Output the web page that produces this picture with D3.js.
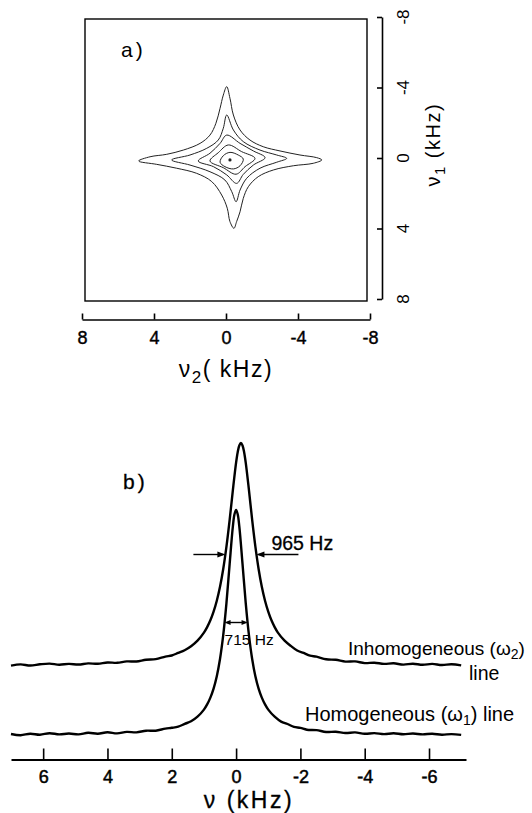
<!DOCTYPE html>
<html>
<head>
<meta charset="utf-8">
<script src="https://cdn.jsdelivr.net/npm/d3@7"></script>
<style>
  html, body { margin: 0; padding: 0; background: #fff; }
  svg { display: block; font-family: "Liberation Sans", Arial, sans-serif; }
</style>
</head>
<body>
<svg id="fig" width="532" height="813"></svg>
<script>
// ---------- panel a: 2D contour map (nu2, nu1 in kHz) ----------
const nu2Ticks = [8, 4, 0, -4, -8];
const nu1Ticks = [-8, -4, 0, 4, 8];

// contour lines, outermost first, as [nu2, nu1] pairs
const contourOuter = [
  [-0.04,-4.05],[-0.22,-3.39],[-0.41,-2.44],[-0.78,-1.59],[-1.33,-1.02],[-2.07,-0.64],
  [-3.0,-0.40],[-4.11,-0.17],[-5.04,-0.02],[-5.32,0.11],[-4.85,0.30],[-3.74,0.44],
  [-2.63,0.68],[-1.79,1.06],[-1.24,1.63],[-0.96,2.29],[-0.78,3.05],[-0.59,3.61],
  [-0.44,3.99],[-0.22,3.61],[-0.07,2.85],[0.24,2.10],[0.79,1.34],[1.63,0.87],
  [2.74,0.58],[3.85,0.36],[4.85,0.17],[4.22,-0.07],[3.29,-0.21],[2.37,-0.45],
  [1.44,-0.83],[0.89,-1.30],[0.56,-1.97],[0.33,-2.82],[0.15,-3.57]
];
const contourSecond = [
  [-0.04,-2.44],[-0.41,-1.59],[-0.96,-0.93],[-1.89,-0.45],[-2.82,-0.17],[-3.37,0.02],
  [-2.82,0.24],[-1.89,0.58],[-1.15,1.15],[-0.78,1.82],[-0.56,2.48],[-0.32,1.91],
  [0.06,1.25],[0.89,0.78],[2.0,0.40],[3.02,0.11],[2.0,-0.17],[1.07,-0.55],
  [0.43,-1.02],[0.15,-1.69]
];
const contourThird = [
  [-0.04,-1.30],[-0.78,-0.83],[-1.52,-0.40],[-2.17,-0.02],[-1.52,0.40],[-0.96,0.93],
  [-0.59,1.44],[-0.04,0.96],[0.70,0.49],[1.54,0.17],[0.89,-0.27],[0.33,-0.83]
];
const contourFourth = [
  [-0.13,-0.74],[-0.87,-0.36],[-1.61,0.02],[-1.06,0.49],[-0.56,0.92],[0.15,0.55],
  [0.89,0.17],[0.43,-0.30]
];
const contourFifth = [
  [-0.22,-0.32],[-0.68,-0.17],[-0.96,0.06],[-0.78,0.44],[-0.41,0.62],[0.06,0.49],
  [0.33,0.24],[0.15,-0.13]
];
const contourPeak = [-0.22, 0.11];

// ---------- panel b: 1D line shapes (nu in kHz, intensity in arbitrary units) ----------
const nuTicks = [6, 4, 2, 0, -2, -4, -6];

const inhNu = [7.0,6.7,6.4,6.1,5.8,5.5,5.2,4.9,4.6,4.3,4.0,3.7,3.4,3.1,2.8,2.5,2.2,
  2.0,1.8,1.6,1.4,1.2,1.0,0.9,0.8,0.7,0.6,0.5,0.4,0.3,0.2,0.1,0.0,
  -0.05,-0.1,-0.15,-0.2,-0.25,-0.3,-0.4,-0.5,-0.6,-0.7,-0.8,-0.9,-1.0,-1.1,-1.2,-1.3,
  -1.5,-1.7,-1.9,-2.1,-2.3,-2.5,-2.8,-3.1,-3.4,-3.7,-4.0,-4.3,-4.6,-4.9,-5.2,-5.5,
  -5.8,-6.1,-6.4,-6.7,-7.0];
const inhInt = [93.4,94.6,93.5,94.7,95.4,94.3,95.1,94.5,95.6,95.2,96.5,96.2,97.6,97.5,99.3,99.9,102.4,
  103.5,106.1,108.8,112.7,118.3,126.4,131.9,138.7,147.4,158.3,172.2,190.0,212.3,239.1,268.9,296.4,
  306.8,313.6,316.0,313.6,306.8,296.4,268.9,239.1,212.3,190.0,172.2,158.3,147.4,138.7,131.9,126.4,
  118.6,113.1,108.5,106.1,103.3,102.3,99.7,99.2,97.4,97.6,95.9,96.3,95.1,95.7,94.4,95.3,
  94.2,95.1,94.0,94.7,93.6];

const homNu = [7.0,6.7,6.4,6.1,5.8,5.5,5.2,4.9,4.6,4.3,4.0,3.7,3.4,3.1,2.8,2.5,2.2,
  2.0,1.8,1.6,1.4,1.2,1.0,0.9,0.8,0.7,0.6,0.5,0.4,0.3,0.2,0.1,0.05,0,
  -0.05,-0.1,-0.2,-0.3,-0.4,-0.5,-0.6,-0.7,-0.8,-0.9,-1.0,-1.2,-1.4,-1.6,-1.8,-2.0,
  -2.2,-2.5,-2.8,-3.1,-3.4,-3.7,-4.0,-4.3,-4.6,-4.9,-5.2,-5.5,-5.8,-6.1,-6.4,-6.7,-7.0];
const homInt = [25.0,23.8,25.3,24.3,25.8,24.6,25.5,24.6,26.2,25.3,26.7,25.6,27.1,26.6,28.3,28.3,30.4,
  31.2,32.3,35.1,37.7,42.3,49.4,54.6,61.4,70.4,82.8,100.0,123.8,155.9,195.2,232.6,244.7,249.0,
  244.7,232.6,195.2,155.9,123.8,100.0,82.8,70.4,61.4,54.6,49.4,42.3,37.4,35.0,32.1,31.1,
  29.3,28.9,27.0,27.3,26.0,26.6,25.2,25.9,24.9,25.7,24.7,25.5,24.6,25.3,24.3,24.9,24.1];

// line widths (kHz), peak centres (kHz) and baselines (intensity units)
const inhFwhm = 0.965, inhCentre = -0.15, inhBase = 93, inhPeak = 316;
const homFwhm = 0.715, homCentre = 0.0,  homBase = 24, homPeak = 249;

// ---------- drawing ----------
const svg = d3.select("#fig");
const FONT = "Liberation Sans, Arial, sans-serif";

// thin outline that gives labels the weight of pen-plotted lettering
function pen(sel, w) {
  sel.attr("stroke", "#000").attr("stroke-width", w).attr("paint-order", "stroke");
}

// panel a
const xA = d3.scaleLinear().domain([8, -8]).range([82, 370]);
const yA = d3.scaleLinear().domain([-8, 8]).range([17, 299]);

svg.append("rect")
  .attr("x", xA(8) + 3).attr("y", yA(-8) + 2)
  .attr("width", xA(-8) - xA(8) - 6).attr("height", yA(8) - yA(-8))
  .attr("fill", "none").attr("stroke", "#000").attr("stroke-width", 1.4);

svg.append("text").attr("x", 121).attr("y", 57)
  .attr("font-size", 21).attr("letter-spacing", 3).text("a)");

const contourLine = d3.line()
  .x(d => xA(d[0])).y(d => yA(d[1]))
  .curve(d3.curveCatmullRomClosed.alpha(0.5));

svg.append("g").selectAll("path")
  .data([contourOuter, contourSecond, contourThird, contourFourth, contourFifth])
  .join("path")
  .attr("d", contourLine)
  .attr("fill", "none").attr("stroke", "#222").attr("stroke-width", 1);

svg.append("circle")
  .attr("cx", xA(contourPeak[0])).attr("cy", yA(contourPeak[1]))
  .attr("r", 1.6).attr("fill", "#222");

// nu2 axis under the map
const axA = svg.append("g").attr("transform", "translate(0,319.5)")
  .call(d3.axisBottom(xA).tickValues(nu2Ticks).tickSizeInner(-6).tickSizeOuter(0)
    .tickPadding(12).tickFormat(d => String(d)));
axA.select(".domain").attr("stroke-width", 1.6);
axA.selectAll(".tick line").attr("stroke-width", 1.6);
axA.selectAll("text").attr("font-size", 18).attr("font-family", FONT).call(pen, 0.4);

const lab2 = svg.append("text").attr("x", xA(0)).attr("y", 377)
  .attr("text-anchor", "middle").attr("font-size", 23).attr("letter-spacing", 1.5);
lab2.append("tspan").text("ν");
lab2.append("tspan").attr("dy", 6).attr("font-size", 17).text("2");
lab2.append("tspan").attr("dy", -6).text("( kHz)");

// nu1 axis on the right
const axisX = 382;
const axR = svg.append("g").attr("transform", `translate(${axisX},0)`)
  .call(d3.axisRight(yA).tickValues(nu1Ticks).tickSizeInner(-5).tickSizeOuter(0)
    .tickFormat(() => ""));
axR.select(".domain").attr("stroke-width", 1.6);
axR.selectAll(".tick line").attr("stroke-width", 1.6);

svg.append("g").selectAll("text").data(nu1Ticks).join("text")
  .attr("transform", d => `translate(${axisX + 27},${yA(d)}) rotate(-90)`)
  .attr("text-anchor", "middle").attr("font-size", 17)
  .text(d => String(d));

const lab1 = svg.append("text")
  .attr("transform", `translate(${axisX + 58},${yA(-0.75)}) rotate(-90)`)
  .attr("text-anchor", "middle").attr("font-size", 20).attr("letter-spacing", 1.5);
lab1.append("tspan").text("ν");
lab1.append("tspan").attr("dy", 5).attr("font-size", 15).text("1");
lab1.append("tspan").attr("dy", -5).text(" (kHz)");

// panel b
const xB = d3.scaleLinear().domain([7, -7.15]).range([11, 466]);
const yB = d3.scaleLinear().domain([0, 320]).range([759, 439]);

svg.append("text").attr("x", 123).attr("y", 489)
  .attr("font-size", 21).attr("letter-spacing", 3).call(pen, 0.3).text("b)");

const axB = svg.append("g").attr("transform", "translate(0,759.5)")
  .call(d3.axisBottom(xB).tickValues(nuTicks).tickSizeInner(-11).tickSizeOuter(0)
    .tickPadding(11).tickFormat(d => String(d)));
axB.select(".domain").attr("stroke-width", 1.8);
axB.selectAll(".tick line").attr("stroke-width", 1.6);
axB.selectAll("text").attr("font-size", 18).attr("font-family", FONT).call(pen, 0.5);

svg.append("text").attr("x", xB(-0.4)).attr("y", 808)
  .attr("text-anchor", "middle").attr("font-size", 23).attr("letter-spacing", 2.5)
  .call(pen, 0.3).text("ν (kHz)");

const spectrum = d3.line()
  .x(d => xB(d[0])).y(d => yB(d[1]))
  .curve(d3.curveCatmullRom.alpha(0.5));

svg.append("path").datum(d3.zip(inhNu, inhInt))
  .attr("d", spectrum).attr("fill", "none")
  .attr("stroke", "#000").attr("stroke-width", 2.4).attr("stroke-linejoin", "round");
svg.append("path").datum(d3.zip(homNu, homInt))
  .attr("d", spectrum).attr("fill", "none")
  .attr("stroke", "#000").attr("stroke-width", 2.4).attr("stroke-linejoin", "round");

// arrow helper: filled head with its tip at (x, y), pointing along dir (+1 right, -1 left)
function head(x, y, dir, len, half) {
  svg.append("path")
    .attr("d", `M${x},${y}L${x - dir * len},${y - half}L${x - dir * len},${y + half}Z`)
    .attr("fill", "#000");
}

// inhomogeneous width marker
const yInh = yB(inhBase + (inhPeak - inhBase) / 2);
const inhL = xB(inhCentre + inhFwhm / 2), inhR = xB(inhCentre - inhFwhm / 2);
svg.append("line").attr("x1", inhL - 32).attr("x2", inhL - 2).attr("y1", yInh).attr("y2", yInh)
  .attr("stroke", "#000").attr("stroke-width", 1.4);
head(inhL, yInh, 1, 8, 3);
svg.append("line").attr("x1", inhR + 2).attr("x2", inhR + 42).attr("y1", yInh).attr("y2", yInh)
  .attr("stroke", "#000").attr("stroke-width", 1.4);
head(inhR, yInh, -1, 8, 3);
svg.append("text").attr("x", inhR + 15).attr("y", yInh - 5)
  .attr("font-size", 19.5).call(pen, 0.3).text(`${Math.round(inhFwhm * 1000)} Hz`);

// homogeneous width marker
const yHom = yB(homBase + (homPeak - homBase) / 2);
const homL = xB(homCentre + homFwhm / 2), homR = xB(homCentre - homFwhm / 2);
svg.append("line").attr("x1", homL + 2).attr("x2", homR - 2).attr("y1", yHom).attr("y2", yHom)
  .attr("stroke", "#000").attr("stroke-width", 1.4);
head(homL, yHom, -1, 6, 2.5);
head(homR, yHom, 1, 6, 2.5);
svg.append("text").attr("x", homL).attr("y", yHom + 22)
  .attr("font-size", 15.5).text(`${Math.round(homFwhm * 1000)} Hz`);

// line names
const tInh = svg.append("text").attr("x", 348).attr("y", 655).attr("font-size", 19);
tInh.append("tspan").text("Inhomogeneous (ω");
tInh.append("tspan").attr("dy", 4).attr("font-size", 14).text("2");
tInh.append("tspan").attr("dy", -4).text(")");
svg.append("text").attr("x", 469).attr("y", 680).attr("font-size", 19.5).text("line");

const tHom = svg.append("text").attr("x", 305).attr("y", 721).attr("font-size", 20);
tHom.append("tspan").text("Homogeneous (ω");
tHom.append("tspan").attr("dy", 4).attr("font-size", 14).text("1");
tHom.append("tspan").attr("dy", -4).text(") line");
</script>
</body>
</html>
